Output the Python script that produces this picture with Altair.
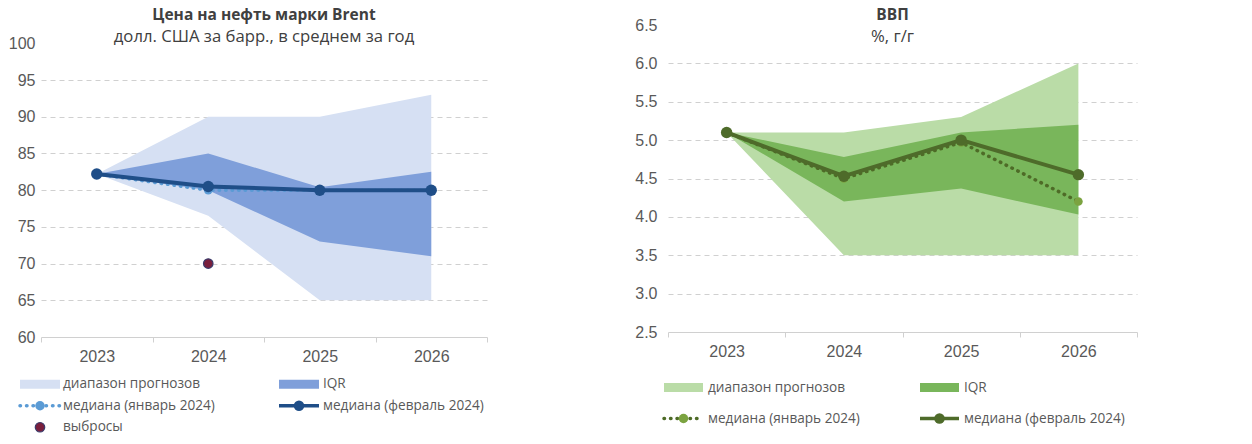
import altair as alt
import pandas as pd

# ---------------- data ----------------
years = ["2023", "2024", "2025", "2026"]

brent_range_lo = [82.2, 76.5, 65.0, 65.0]
brent_range_hi = [82.2, 90.0, 90.0, 93.0]
brent_iqr_lo = [82.2, 80.0, 73.0, 71.0]
brent_iqr_hi = [82.2, 85.0, 80.4, 82.5]
brent_med_jan = [82.2, 80.0, 80.0, 80.0]
brent_med_feb = [82.2, 80.5, 80.0, 80.0]
brent_outlier_year = ["2024"]
brent_outlier_val = [70.0]

gdp_range_lo = [5.1, 3.5, 3.5, 3.5]
gdp_range_hi = [5.1, 5.1, 5.3, 6.0]
gdp_iqr_lo = [5.1, 4.2, 4.37, 4.03]
gdp_iqr_hi = [5.1, 4.78, 5.1, 5.2]
gdp_med_jan = [5.1, 4.5, 4.97, 4.2]
gdp_med_feb = [5.1, 4.53, 5.0, 4.55]

brent_ticks = [60, 65, 70, 75, 80, 85, 90, 95, 100]
gdp_ticks = [2.5, 3.0, 3.5, 4.0, 4.5, 5.0, 5.5, 6.0, 6.5]

brent_legend_labels = ["диапазон прогнозов", "IQR", "медиана (январь 2024)",
                       "медиана (февраль 2024)", "выбросы"]
gdp_legend_labels = ["диапазон прогнозов", "IQR", "медиана (январь 2024)",
                     "медиана (февраль 2024)"]

# ---------------- style ----------------
AX_FONT = "Liberation Sans"
TXT_FONT = "Open Sans"
LBL = "#595959"
TTL = "#404040"
GRID = "#d0d0d0"

B_RANGE, B_IQR, B_JAN, B_FEB, B_OUT = "#d6e0f3", "#7f9fda", "#5b9bd5", "#1f4e88", "#7a1f3d"
G_RANGE, G_IQR, G_JANL, G_JANP, G_FEB = "#badca7", "#79b65b", "#4e6b27", "#7ba340", "#4e6b2a"

bdf = pd.DataFrame({"year": years, "rlo": brent_range_lo, "rhi": brent_range_hi,
                    "ilo": brent_iqr_lo, "ihi": brent_iqr_hi,
                    "jan": brent_med_jan, "feb": brent_med_feb})
odf = pd.DataFrame({"year": brent_outlier_year, "v": brent_outlier_val})
gdf = pd.DataFrame({"year": years, "rlo": gdp_range_lo, "rhi": gdp_range_hi,
                    "ilo": gdp_iqr_lo, "ihi": gdp_iqr_hi,
                    "jan": gdp_med_jan, "feb": gdp_med_feb})


def panel(df, ticks, dom, w, h, cols, title, subtitle, toffset, tdx, lpad, extra=None):
    lo, hi = ticks[0], ticks[-1]
    xenc = alt.X("year:O", bandPosition=0.5,
                 scale=alt.Scale(type="band", domain=years, paddingInner=0, paddingOuter=0),
                 axis=alt.Axis(title=None, labelAngle=0, labelFont=AX_FONT, labelFontSize=16,
                               labelColor=LBL, domainColor=GRID, tickColor=GRID, tickSize=5,
                               tickBand="extent", labelPadding=6, grid=False))
    ysc = alt.Scale(domain=dom, nice=False, zero=False)
    yax = alt.Axis(title=None, values=ticks, tickCount=len(ticks) + 2, labelOverlap=False,
                   labelFont=AX_FONT, labelFontSize=16, labelColor=LBL,
                   domain=False, ticks=False, labelPadding=lpad,
                   format=".1f" if hi < 10 else "d",
                   grid=True, gridColor=GRID, gridDash=[5, 4],
                   gridOpacity={"condition": {"test": f"datum.value >= {hi} || datum.value <= {lo}",
                                              "value": 0}, "value": 1})
    base = alt.Chart(df)
    rng = base.mark_area(color=cols[0], opacity=1, orient="vertical").encode(
        x=xenc, y=alt.Y("rhi:Q", scale=ysc, axis=yax), y2="rlo:Q")
    iqr = base.mark_area(color=cols[1], opacity=1, orient="vertical").encode(
        x=xenc, y=alt.Y("ihi:Q", scale=ysc, axis=yax), y2="ilo:Q")
    janl = base.mark_line(color=cols[2], strokeWidth=3.5, strokeDash=[0.5, 6],
                          strokeCap="round").encode(x=xenc, y=alt.Y("jan:Q", scale=ysc, axis=yax))
    janp = base.mark_circle(color=cols[3], size=75, opacity=1).encode(
        x=xenc, y=alt.Y("jan:Q", scale=ysc, axis=yax))
    febl = base.mark_line(color=cols[4], strokeWidth=4).encode(
        x=xenc, y=alt.Y("feb:Q", scale=ysc, axis=yax))
    febp = base.mark_circle(color=cols[4], size=130, opacity=1).encode(
        x=xenc, y=alt.Y("feb:Q", scale=ysc, axis=yax))
    layers = [rng, iqr, janl, janp, febl, febp]
    if extra is not None:
        layers.append(extra(xenc, ysc, yax))
    return alt.layer(*layers).properties(
        width=w, height=h,
        title=alt.TitleParams(text=title, subtitle=subtitle, anchor="middle", frame="group",
                              font=TXT_FONT, fontSize=15.5, fontWeight="bold", color=TTL,
                              subtitleFont=TXT_FONT, subtitleFontSize=16.7, subtitleColor=TTL,
                              subtitlePadding=5.5, offset=toffset, dx=tdx))


def outliers(xenc, ysc, yax):
    return alt.Chart(odf).mark_point(filled=True, fill=B_OUT, stroke="#3a3a6a", strokeWidth=1.2,
                                     size=90, opacity=1, shape="circle").encode(
        x=xenc, y=alt.Y("v:Q", scale=ysc, axis=yax))


def legend(labels, kinds, cols_x, rows, x_origin, w, h, colors):
    # cols_x: per column (symbol start, symbol end, text x), relative to the panel's left edge
    recs = []
    for i, (lab, kind) in enumerate(zip(labels, kinds)):
        c, r = i % 2, i // 2
        s0, s1, tx = cols_x[c]
        recs.append({"label": lab, "kind": kind, "row": r, "x0": s0, "x1": s1,
                     "xc": (s0 + s1) / 2, "xt": tx})
    ldf = pd.DataFrame(recs)
    xs = alt.Scale(domain=[x_origin, x_origin + w], nice=False, zero=False)
    ys = alt.Scale(domain=[-0.5, rows - 0.5], reverse=True, nice=False, zero=False)
    base = alt.Chart(ldf)
    X = lambda f: alt.X(f, scale=xs, axis=None)
    Y = alt.Y("row:Q", scale=ys, axis=None)
    layers = []
    for kind in ["range", "iqr"]:
        layers.append(base.transform_filter(alt.datum.kind == kind).mark_rule(
            color=colors[kind], strokeWidth=9, strokeCap="butt").encode(x=X("x0:Q"), x2="x1:Q", y=Y))
    layers.append(base.transform_filter(alt.datum.kind == "jan").mark_rule(
        color=colors["janl"], strokeWidth=3.5, strokeDash=[0.5, 6], strokeCap="round").encode(
        x=X("x0:Q"), x2="x1:Q", y=Y))
    layers.append(base.transform_filter(alt.datum.kind == "jan").mark_circle(
        color=colors["janp"], size=90, opacity=1).encode(x=X("xc:Q"), y=Y))
    layers.append(base.transform_filter(alt.datum.kind == "feb").mark_rule(
        color=colors["feb"], strokeWidth=3.5).encode(x=X("x0:Q"), x2="x1:Q", y=Y))
    layers.append(base.transform_filter(alt.datum.kind == "feb").mark_circle(
        color=colors["feb"], size=110, opacity=1).encode(x=X("xc:Q"), y=Y))
    if "out" in kinds:
        layers.append(base.transform_filter(alt.datum.kind == "out").mark_point(
            filled=True, fill=B_OUT, stroke="#3a3a6a", strokeWidth=1.2, size=90, opacity=1,
            shape="circle").encode(x=X("xc:Q"), y=Y))
    layers.append(base.mark_text(align="left", baseline="middle", font=TXT_FONT, fontSize=13.6,
                                 color=LBL).encode(x=X("xt:Q"), y=Y, text="label:N"))
    return alt.layer(*layers).properties(width=w, height=h)


left_plot = panel(bdf, brent_ticks, [60, 102.5], 446, 312,
                  [B_RANGE, B_IQR, B_JAN, B_JAN, B_FEB],
                  "Цена на нефть марки Brent", "долл. США за барр., в среднем за год",
                  -21, 0, 6, extra=outliers)
right_plot = panel(gdf, gdp_ticks, [2.5, 6.5], 469, 307,
                   [G_RANGE, G_IQR, G_JANL, G_JANP, G_FEB],
                   "ВВП", "%, г/г", -29, -10, 11)

left_leg = legend(brent_legend_labels, ["range", "iqr", "jan", "feb", "out"],
                  [(12, 52, 55), (271, 311, 315)], 3, 33, 446, 64.5,
                  {"range": B_RANGE, "iqr": B_IQR, "janl": B_JAN, "janp": B_JAN, "feb": B_FEB})
right_leg = legend(gdp_legend_labels, ["range", "iqr", "jan", "feb"],
                   [(29, 68, 73), (285, 324, 329)], 2, 33, 469, 62,
                   {"range": G_RANGE, "iqr": G_IQR, "janl": G_JANL, "janp": G_JANP, "feb": G_FEB})

chart = alt.hconcat(
    alt.vconcat(left_plot, left_leg, spacing=9.5),
    alt.vconcat(right_plot, right_leg, spacing=13),
    spacing=146,
).properties(padding={"top": 0, "left": 0, "right": 0, "bottom": 0},
             background="white").configure_view(strokeWidth=0)

chart.save("out.html", embed_options={"renderer": "svg", "actions": False})
